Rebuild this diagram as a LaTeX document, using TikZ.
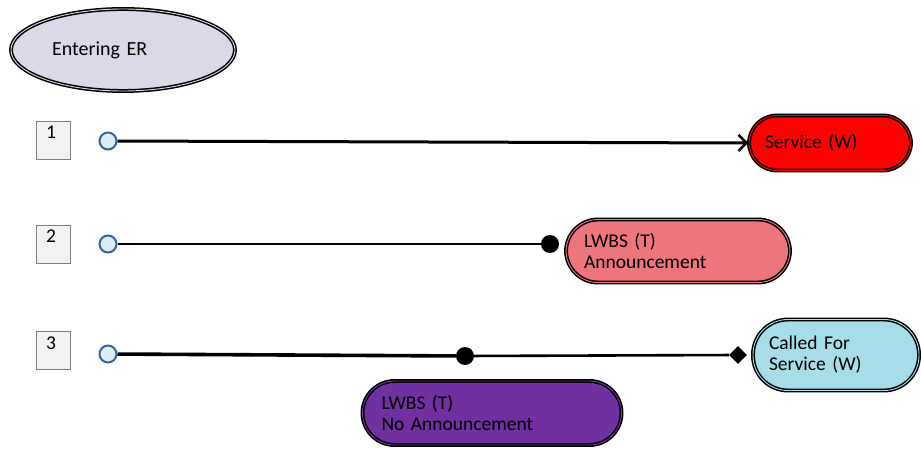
\documentclass[tikz,border=0pt]{standalone}
\usepackage{fontspec}
\setmainfont{Carlito}
\usetikzlibrary{arrows.meta,shapes.geometric}
\definecolor{lav}{RGB}{217,217,232}
\definecolor{pinkred}{RGB}{237,118,124}
\definecolor{cyanb}{RGB}{166,221,233}
\definecolor{purp}{RGB}{112,48,160}
\definecolor{cfill}{RGB}{218,238,243}
\definecolor{cline}{RGB}{59,100,150}
\definecolor{bfill}{RGB}{242,242,242}
\definecolor{bline}{RGB}{127,127,127}
\tikzset{
  txt/.style={font=\fontsize{19.5}{21}\selectfont},
  pill/.style={txt, draw=black, line width=1.5pt, double distance=0.9pt, rounded corners=#1, align=left, inner ysep=0pt},
  numbox/.style={txt, draw=bline, fill=bfill, line width=0.8pt, minimum width=34pt, minimum height=38pt, inner xsep=10pt, text width=14pt, align=left, text height=12pt, text depth=14pt, inner ysep=0pt},
  startc/.style={circle, draw=cline, fill=cfill, line width=2pt, minimum size=17pt, inner sep=0pt},
  bdot/.style={circle, fill=black, minimum size=18pt, inner sep=0pt},
  bdia/.style={diamond, fill=black, minimum size=18pt, inner sep=0pt},
}
\begin{document}
\begin{tikzpicture}[x=1pt,y=-1pt]
\useasboundingbox (0,0) rectangle (921,449);
\node[ellipse, txt, font=\fontsize{20}{22}\selectfont, draw=black, line width=1.5pt, double=lav, double distance=0.9pt, fill=lav, minimum width=224pt, minimum height=82pt, text width=142pt, align=left] (er) at (123,50) {Entering ER};

\node[numbox] (n1) at (53,140) {1};
\node[numbox] (n2) at (53,244) {2};
\node[numbox] (n3) at (53,350) {3};

\node[startc] (c1) at (108,141) {};
\node[startc] (c2) at (108,244) {};
\node[startc] (c3) at (108,354) {};

\node[pill=28pt, fill=red, double=red, minimum height=55pt, text width=130pt, inner xsep=16pt] (svc) at (830,143) {Service (W)};
\node[pill=32pt, fill=pinkred, double=pinkred, minimum height=63pt, text width=188pt, inner xsep=18pt] (ann) at (678,251) {LWBS (T)\\Announcement};
\node[pill=35pt, fill=cyanb, double=cyanb, minimum height=71pt, text width=134pt, inner xsep=16pt] (cfs) at (836,355) {Called For\\Service (W)};
\node[pill=32pt, fill=purp, double=purp, minimum height=64pt, text width=221pt, inner xsep=19pt] (noann) at (492,413) {LWBS (T)\\No Announcement};

\node[bdot] (d2) at (550,244) {};
\node[bdot] (d3) at (465,356) {};
\node[bdia] (dia3) at (738,355) {};

\draw[line width=3pt, -{Straight Barb[length=8pt,width=16pt,line width=2.5pt]}] (c1) -- (svc.west);
\draw[line width=2.6pt] (c2) -- (d2);
\draw[line width=3.6pt] (c3) -- (d3);
\draw[line width=2.6pt] (d3) -- (dia3);
\end{tikzpicture}
\end{document}
